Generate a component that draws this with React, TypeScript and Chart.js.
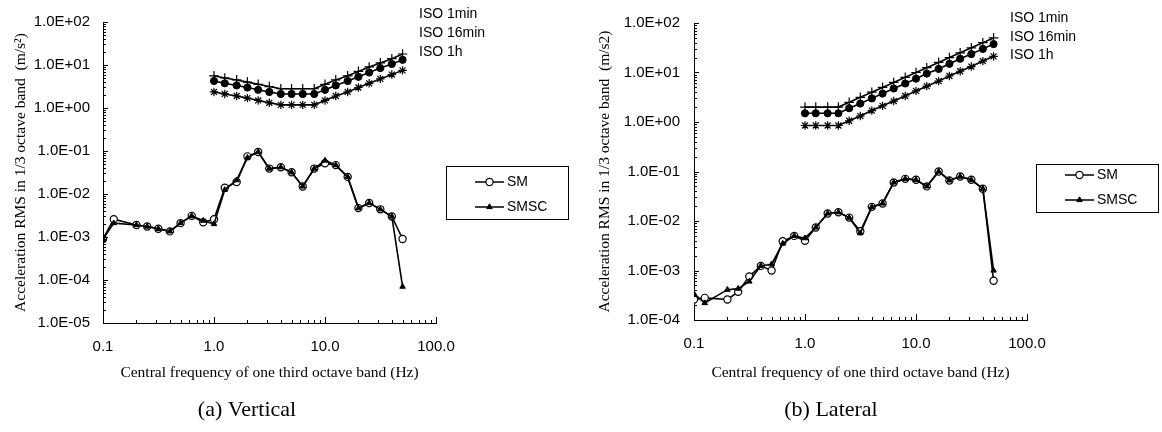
import React, { useEffect, useRef } from 'react';
import { Chart, registerables } from 'chart.js';
import { drawPoint } from 'chart.js/helpers';

Chart.register(...registerables);

// ---------- data ----------
const bandFreqs = [0.1, 0.125, 0.2, 0.25, 0.315, 0.4, 0.5, 0.63, 0.8, 1, 1.25, 1.6, 2, 2.5, 3.15, 4, 5, 6.3, 8, 10, 12.5, 16, 20, 25, 31.5, 40, 50];
const isoFreqs = [1, 1.25, 1.6, 2, 2.5, 3.15, 4, 5, 6.3, 8, 10, 12.5, 16, 20, 25, 31.5, 40, 50];

const verticalSM = [9.0e-4, 2.6e-3, 1.9e-3, 1.75e-3, 1.55e-3, 1.35e-3, 2.1e-3, 3.1e-3, 2.2e-3, 2.6e-3, 1.4e-2, 1.9e-2, 7.5e-2, 9.5e-2, 3.9e-2, 4.2e-2, 3.2e-2, 1.5e-2, 3.9e-2, 5.2e-2, 4.7e-2, 2.5e-2, 4.7e-3, 6.2e-3, 4.4e-3, 3.0e-3, 9.0e-4];
const verticalSMSC = [9.0e-4, 2.1e-3, 1.9e-3, 1.75e-3, 1.55e-3, 1.35e-3, 2.1e-3, 3.1e-3, 2.4e-3, 2.0e-3, 1.25e-2, 2.1e-2, 7.0e-2, 9.5e-2, 3.9e-2, 4.2e-2, 3.2e-2, 1.5e-2, 3.9e-2, 6.0e-2, 4.7e-2, 2.5e-2, 4.7e-3, 6.2e-3, 4.4e-3, 3.0e-3, 7.0e-5];
const verticalIso1min = [5.6, 5.0, 4.5, 4.0, 3.55, 3.15, 2.8, 2.8, 2.8, 2.8, 3.55, 4.5, 5.6, 7.1, 9.0, 11.2, 14.0, 18.0];
const verticalIso16min = [4.25, 3.75, 3.35, 3.0, 2.65, 2.36, 2.12, 2.12, 2.12, 2.12, 2.65, 3.35, 4.25, 5.3, 6.7, 8.5, 10.6, 13.2];
const verticalIso1h = [2.36, 2.12, 1.9, 1.7, 1.5, 1.32, 1.18, 1.18, 1.18, 1.18, 1.5, 1.9, 2.36, 3.0, 3.75, 4.75, 6.0, 7.5];

const lateralSM = [2.6e-4, 2.8e-4, 2.6e-4, 3.7e-4, 7.6e-4, 1.24e-3, 1.0e-3, 3.9e-3, 5.0e-3, 4.0e-3, 7.4e-3, 1.42e-2, 1.5e-2, 1.17e-2, 6.2e-3, 1.93e-2, 2.26e-2, 6.0e-2, 7.1e-2, 6.8e-2, 5.0e-2, 1.0e-1, 6.6e-2, 7.9e-2, 6.8e-2, 4.5e-2, 6.2e-4];
const lateralSMSC = [3.4e-4, 2.2e-4, 4.1e-4, 4.3e-4, 6.0e-4, 1.24e-3, 1.34e-3, 3.5e-3, 5.0e-3, 4.5e-3, 7.4e-3, 1.42e-2, 1.5e-2, 1.17e-2, 5.7e-3, 1.93e-2, 2.26e-2, 6.0e-2, 7.1e-2, 6.8e-2, 5.0e-2, 1.0e-1, 6.6e-2, 7.9e-2, 6.8e-2, 4.5e-2, 1.0e-3];
const lateralIso1min = [2.0, 2.0, 2.0, 2.0, 2.5, 3.15, 4.0, 5.0, 6.3, 8.0, 10, 12.5, 16, 20, 25, 31.5, 40, 50];
const lateralIso16min = [1.5, 1.5, 1.5, 1.5, 1.9, 2.36, 3.0, 3.75, 4.75, 6.0, 7.5, 9.5, 11.8, 15, 19, 23.6, 30, 37.5];
const lateralIso1h = [0.85, 0.85, 0.85, 0.85, 1.06, 1.32, 1.7, 2.12, 2.65, 3.35, 4.25, 5.3, 6.7, 8.5, 10.6, 13.2, 17, 21.2];

const xTickValues = [0.1, 1, 10, 100];
const xTickLabels = ['0.1', '1.0', '10.0', '100.0'];
const verticalYTickValues = [1e-5, 1e-4, 1e-3, 1e-2, 1e-1, 1, 10, 100];
const verticalYTickLabels = ['1.0E-05', '1.0E-04', '1.0E-03', '1.0E-02', '1.0E-01', '1.0E+00', '1.0E+01', '1.0E+02'];
const lateralYTickValues = [1e-4, 1e-3, 1e-2, 1e-1, 1, 10, 100];
const lateralYTickLabels = ['1.0E-04', '1.0E-03', '1.0E-02', '1.0E-01', '1.0E+00', '1.0E+01', '1.0E+02'];

const seriesNames = ['SM', 'SMSC'];
const isoNames = ['ISO 1min', 'ISO 16min', 'ISO 1h'];
const xTitle = 'Central frequency of one third octave band (Hz)';

const SANS = "'Liberation Sans', Arial, sans-serif";
const SERIF = "'Liberation Serif', 'Times New Roman', serif";

// ---------- plugins ----------
const axisTicksPlugin = {
  id: 'axisTicks',
  afterDraw(chart: any) {
    const { ctx, chartArea, scales } = chart;
    const xs = scales.x, ys = scales.y;
    ctx.save();
    ctx.strokeStyle = '#000';
    ctx.lineWidth = 1;
    ctx.beginPath();
    for (let d = xs.min; d < xs.max * 1.0001; d *= 10) {
      for (let k = 1; k <= 9; k++) {
        const v = d * k;
        if (v > xs.max * 1.0001) break;
        const px = Math.round(xs.getPixelForValue(v)) + 0.5;
        const len = k === 1 ? 6 : 3;
        ctx.moveTo(px, chartArea.bottom);
        ctx.lineTo(px, chartArea.bottom - len);
      }
    }
    for (let d = ys.min; d < ys.max * 1.0001; d *= 10) {
      for (let k = 1; k <= 9; k++) {
        const v = d * k;
        if (v > ys.max * 1.0001) break;
        const py = Math.round(ys.getPixelForValue(v)) + 0.5;
        const len = k === 1 ? 5 : 3;
        ctx.moveTo(chartArea.left, py);
        ctx.lineTo(chartArea.left + len, py);
      }
    }
    ctx.stroke();
    ctx.restore();
  },
};

const legendBoxPlugin = {
  id: 'legendBox',
  afterDraw(chart: any, _args: any, opts: any) {
    const { ctx, chartArea } = chart;
    const bx = chartArea.right + opts.dx;
    const by = opts.top;
    ctx.save();
    ctx.strokeStyle = '#000';
    ctx.lineWidth = 1;
    ctx.strokeRect(Math.round(bx) + 0.5, by + 0.5, opts.w, opts.h);
    ctx.font = `14px ${SANS}`;
    ctx.textBaseline = 'middle';
    ctx.textAlign = 'left';
    opts.datasetIndexes.forEach((di: number, i: number) => {
      const ds = chart.data.datasets[di];
      const y = opts.rows[i];
      ctx.strokeStyle = '#000';
      ctx.lineWidth = 1.5;
      ctx.beginPath();
      ctx.moveTo(bx + 29, y);
      ctx.lineTo(bx + 58, y);
      ctx.stroke();
      ctx.fillStyle = ds.pointBackgroundColor;
      ctx.strokeStyle = ds.pointBorderColor;
      ctx.lineWidth = ds.pointBorderWidth;
      drawPoint(ctx, { pointStyle: ds.pointStyle, radius: ds.pointRadius, borderWidth: ds.pointBorderWidth, rotation: 0 }, bx + 43.5, y);
      ctx.fillStyle = '#000';
      ctx.fillText(ds.label, bx + 61, y + 0.5);
    });
    ctx.restore();
  },
};

const isoLabelPlugin = {
  id: 'isoLabels',
  afterDraw(chart: any, _args: any, opts: any) {
    const { ctx, chartArea } = chart;
    ctx.save();
    ctx.font = `14px ${SANS}`;
    ctx.fillStyle = '#000';
    ctx.textBaseline = 'middle';
    ctx.textAlign = 'left';
    isoNames.forEach((name, i) => {
      ctx.fillText(name, chartArea.right + opts.dx, opts.ys[i]);
    });
    ctx.restore();
  },
};

const captionPlugin = {
  id: 'caption',
  afterDraw(chart: any, _args: any, opts: any) {
    const { ctx } = chart;
    ctx.save();
    ctx.font = `22px ${SERIF}`;
    ctx.fillStyle = '#000';
    ctx.textBaseline = 'middle';
    ctx.textAlign = 'center';
    ctx.fillText(opts.text, opts.x, opts.y);
    ctx.restore();
  },
};

// ---------- config ----------
function pts(xs: number[], ys: number[]) {
  return xs.map((x, i) => ({ x, y: ys[i] }));
}

function buildConfig(p: any) {
  const base = { borderColor: '#000', borderWidth: 1.6, tension: 0, fill: false };
  return {
    type: 'line',
    data: {
      datasets: [
        { ...base, label: seriesNames[1], data: pts(bandFreqs, p.smsc), pointStyle: 'triangle', pointRadius: 3.2, pointBackgroundColor: '#000', pointBorderColor: '#000', pointBorderWidth: 1 },
        { ...base, label: seriesNames[0], data: pts(bandFreqs, p.sm), pointStyle: 'circle', pointRadius: 3.6, pointBackgroundColor: '#fff', pointBorderColor: '#000', pointBorderWidth: 1.2 },
        { ...base, label: isoNames[0], data: pts(isoFreqs, p.iso[0]), pointStyle: 'cross', pointRadius: 4.8, pointBackgroundColor: '#000', pointBorderColor: '#000', pointBorderWidth: 1.2 },
        { ...base, label: isoNames[1], data: pts(isoFreqs, p.iso[1]), pointStyle: 'circle', pointRadius: 3.6, pointBackgroundColor: '#000', pointBorderColor: '#000', pointBorderWidth: 1 },
        { ...base, label: isoNames[2], data: pts(isoFreqs, p.iso[2]), pointStyle: 'star', pointRadius: 4.2, pointBackgroundColor: '#000', pointBorderColor: '#000', pointBorderWidth: 1.2 },
      ],
    },
    options: {
      responsive: false,
      animation: false,
      events: [],
      layout: { padding: { top: p.padTop, right: p.padRight, left: 0, bottom: 0 } },
      scales: {
        x: {
          type: 'logarithmic',
          min: 0.1,
          max: 100,
          afterBuildTicks: (s: any) => { s.ticks = xTickValues.map((v) => ({ value: v })); },
          afterFit: (s: any) => { s.height = p.xAxisHeight; },
          grid: { display: false, drawTicks: false, tickLength: 0 },
          border: { display: true, color: '#000', width: 1 },
          ticks: { autoSkip: false, maxRotation: 0, padding: 15, color: '#000', font: { family: SANS, size: 15 }, callback: (_v: any, i: number) => xTickLabels[i] },
          title: { display: true, text: xTitle, color: '#000', font: { family: SERIF, size: 15.5 }, padding: { top: 0, bottom: 50 } },
        },
        y: {
          type: 'logarithmic',
          min: p.yTicks[0],
          max: p.yTicks[p.yTicks.length - 1],
          afterBuildTicks: (s: any) => { s.ticks = p.yTicks.map((v: number) => ({ value: v })); },
          afterFit: (s: any) => { s.width = p.yAxisWidth; },
          grid: { display: false, drawTicks: false, tickLength: 0 },
          border: { display: true, color: '#000', width: 1 },
          ticks: { autoSkip: false, padding: p.yTickPad, color: '#000', font: { family: SANS, size: 15 }, callback: (_v: any, i: number) => p.yLabels[i] },
          title: { display: true, text: p.yTitle, color: '#000', font: { family: SERIF, size: 15.5 }, padding: { top: p.yTitlePad, bottom: 0 } },
        },
      },
      plugins: {
        legend: { display: false },
        tooltip: { enabled: false },
        legendBox: p.legend,
        isoLabels: p.isoLabels,
        caption: p.caption,
      },
    },
    plugins: [axisTicksPlugin, legendBoxPlugin, isoLabelPlugin, captionPlugin],
  };
}

const panelVertical = {
  sm: verticalSM, smsc: verticalSMSC, iso: [verticalIso1min, verticalIso16min, verticalIso1h],
  yTicks: verticalYTickValues, yLabels: verticalYTickLabels,
  yTitle: 'Acceleration RMS in 1/3 octave band  (m/s\u00B2)',
  padTop: 20, padRight: 144, yAxisWidth: 103, xAxisHeight: 109, yTitlePad: 12, yTickPad: 13,
  legend: { dx: 10, top: 166, w: 122, h: 53, rows: [182, 207], datasetIndexes: [1, 0] },
  isoLabels: { dx: -17, ys: [14, 33, 52] },
  caption: { text: '(a) Vertical', x: 247, y: 410 },
};

const panelLateral = {
  sm: lateralSM, smsc: lateralSMSC, iso: [lateralIso1min, lateralIso16min, lateralIso1h],
  yTicks: lateralYTickValues, yLabels: lateralYTickLabels,
  yTitle: 'Acceleration RMS in 1/3 octave band  (m/s2)',
  padTop: 18, padRight: 135, yAxisWidth: 114, xAxisHeight: 112, yTitlePad: 16, yTickPad: 14,
  legend: { dx: 9, top: 164, w: 122, h: 48, rows: [175, 200], datasetIndexes: [1, 0] },
  isoLabels: { dx: -17, ys: [18, 37, 55] },
  caption: { text: '(b) Lateral', x: 251, y: 410 },
};

function Panel({ cfg, left, width }: { cfg: any; left: number; width: number }) {
  const ref = useRef<HTMLCanvasElement>(null);
  useEffect(() => {
    const chart = new Chart(ref.current as HTMLCanvasElement, buildConfig(cfg) as any);
    return () => chart.destroy();
  }, [cfg]);
  return (
    <canvas
      ref={ref}
      width={width}
      height={432}
      style={{ position: 'absolute', left, top: 0, width, height: 432, display: 'block' }}
    />
  );
}

export default function App() {
  return (
    <div style={{ position: 'fixed', left: 0, top: 0, width: 1162, height: 432, background: '#fff', overflow: 'hidden' }}>
      <Panel cfg={panelVertical} left={0} width={580} />
      <Panel cfg={panelLateral} left={580} width={582} />
    </div>
  );
}
